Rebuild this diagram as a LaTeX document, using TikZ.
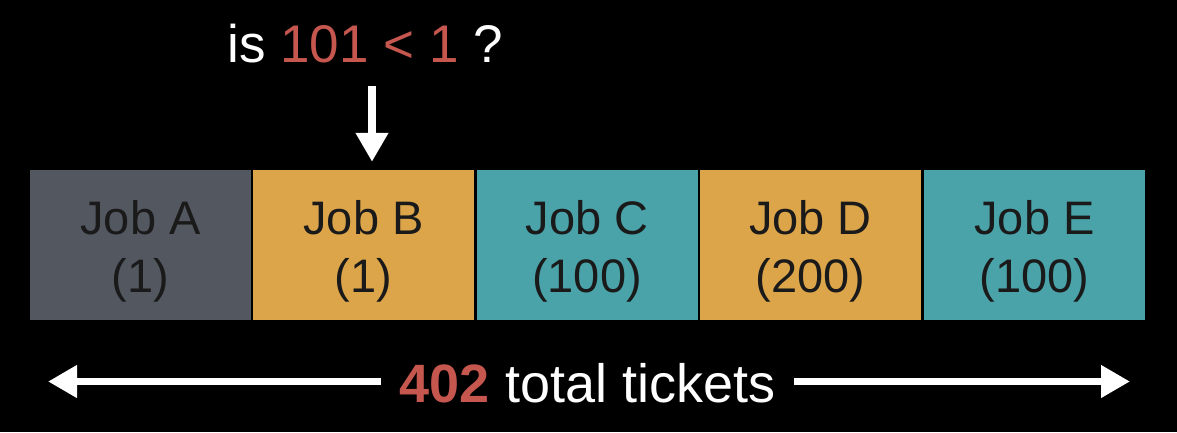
\documentclass[tikz,border=0pt]{standalone}
\usepackage{fontspec}
\setmainfont{Liberation Sans}
\usetikzlibrary{arrows.meta}
\definecolor{jgray}{HTML}{535760}
\definecolor{jorange}{HTML}{DDA54A}
\definecolor{jteal}{HTML}{4AA3A9}
\definecolor{jred}{HTML}{C5574F}
\definecolor{jtext}{HTML}{1A1A1A}
\tikzset{
  jobbox/.style={minimum width=221pt, minimum height=150pt, inner sep=0pt},
  jobtext/.style={text=jtext, inner sep=0pt, anchor=base, font=\fontsize{47}{60}\selectfont},
  bigarrow/.style={white, line width=7.5pt, -{Triangle[length=29pt,width=31pt]}},
}
\begin{document}
\begin{tikzpicture}[x=1pt,y=-1pt]
\fill[black] (0,0) rectangle (1177,432);
\useasboundingbox (0,0) rectangle (1177,432);
\node[jobbox, fill=jgray]   (A) at (140.5,245) {};
\node[jobbox, fill=jorange] (B) at (363.5,245) {};
\node[jobbox, fill=jteal]   (C) at (587,245)   {};
\node[jobbox, fill=jorange] (D) at (810.5,245) {};
\node[jobbox, fill=jteal]   (E) at (1034.5,245) {};
\foreach \n/\a/\b in {A/Job A/(1), B/Job B/(1), C/Job C/(100), D/Job D/(200), E/Job E/(100)}{
  \node[jobtext] (\n1) at ([yshift=11pt]\n.center) {\a};
  \node[jobtext] (\n2) at ([yshift=-47pt]\n.center) {\b};
}
\node[text=white, font=\fontsize{53}{60}\selectfont, anchor=base] (q) at (365,62)
  {is \textcolor{jred}{101 < 1} ?};
\coordinate (qs) at (372,86);
\draw[bigarrow] (qs) -- (B.north -| qs) [shorten >=8pt];
\node[text=white, font=\fontsize{54}{60}\selectfont, inner xsep=19pt, anchor=base] (t) at (587.5,402)
  {\textcolor{jred}{\textbf{402}} total tickets};
\coordinate (lt) at (48,381.5);
\coordinate (rt) at (1130,381.5);
\draw[bigarrow] (t.west |- lt) -- (lt);
\draw[bigarrow] (t.east |- rt) -- (rt);
\end{tikzpicture}
\end{document}
